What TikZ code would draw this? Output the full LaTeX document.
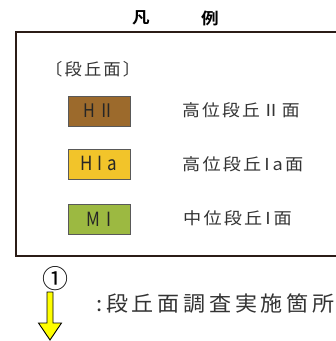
\documentclass[tikz,border=0pt]{standalone}
\usepackage{fontspec}
\usepackage{graphicx}
\newfontfamily\jp{Noto Sans CJK JP}
\newfontfamily\jpls[LetterSpace=12]{Noto Sans CJK JP}
\newfontfamily\jplsw[LetterSpace=17]{Noto Sans CJK JP}
\newfontfamily\jpb{Noto Sans CJK JP Bold}
\definecolor{frame}{HTML}{2B1C17}
\definecolor{txt}{HTML}{333333}
\definecolor{hii}{HTML}{9C6A2C}
\definecolor{hia}{HTML}{F2C42A}
\definecolor{mi}{HTML}{9CB941}
\definecolor{arrowy}{HTML}{FFFF00}
\begin{document}
\begin{tikzpicture}[x=1pt,y=-1pt,
  swatch/.style={draw=black!65,line width=0.8pt,minimum width=62pt,minimum height=30pt,inner sep=0pt,anchor=north west},
  lbl/.style={anchor=west,inner sep=0pt,text=txt,font=\jpls\fontsize{16.5}{16.5}\selectfont},
  sw/.style={inner sep=0pt,text=black!85,font=\jp\fontsize{17}{17}\selectfont}]
\useasboundingbox (0,0) rectangle (336,341);
\clip (0,0) rectangle (336,341);
% title
\node[inner sep=0pt,font=\jpb\fontsize{16}{16}\selectfont] (t1) at (141,18) {\scalebox{1.1}[1]{凡}};
\node[inner sep=0pt,font=\jpb\fontsize{16}{16}\selectfont] (t2) at (210,18) {\scalebox{1.1}[1]{例}};
% frame
\draw[frame,line width=2pt] (345,32) -- (16,32) -- (16,256) -- (345,256);
% heading
\node[lbl] (h) at (45,69) {\scalebox{1.05}[1]{〔段丘面〕}};
% swatches
\node[swatch,fill=hii] (s1) at (67.5,95.5) {};
\node[sw] at (s1.center) {\scalebox{0.95}[1.1]{H\,Ⅱ}};
\node[swatch,fill=hia] (s2) at (67.5,148.5) {};
\node[sw] at (s2.center) {\scalebox{1}[1.15]{H\hspace{5pt}I\hspace{5pt}a}};
\node[swatch,fill=mi] (s3) at (67.5,203.5) {};
\node[sw] at (s3.center) {\scalebox{1}[1.15]{M\hspace{7pt}I}};
% labels
\node[lbl] (l1) at (182,110) {\scalebox{1.08}[1]{高位段丘Ⅱ面}};
\node[lbl] (l2) at (182,164) {\scalebox{1.1}[1]{高位段丘\,I\,a面}};
\node[lbl] (l3) at (183,218) {\scalebox{1.1}[1]{中位段丘\,I\,面}};
% arrow
\node[inner sep=0pt,font=\jp\fontsize{26}{26}\selectfont] (c1) at (55,279) {①};
\draw[black,fill=arrowy,line width=0.9pt,line join=miter]
  (47,292) -- (53,292) -- (53,323) -- (61.5,323) -- (50,340) -- (38.5,323) -- (47,323) -- cycle;
\node[lbl,font=\jplsw\fontsize{21}{21}\selectfont] (bt) at (96,304) {\scalebox{1.05}[1]{:段丘面調査実施箇所}};
\end{tikzpicture}
\end{document}
